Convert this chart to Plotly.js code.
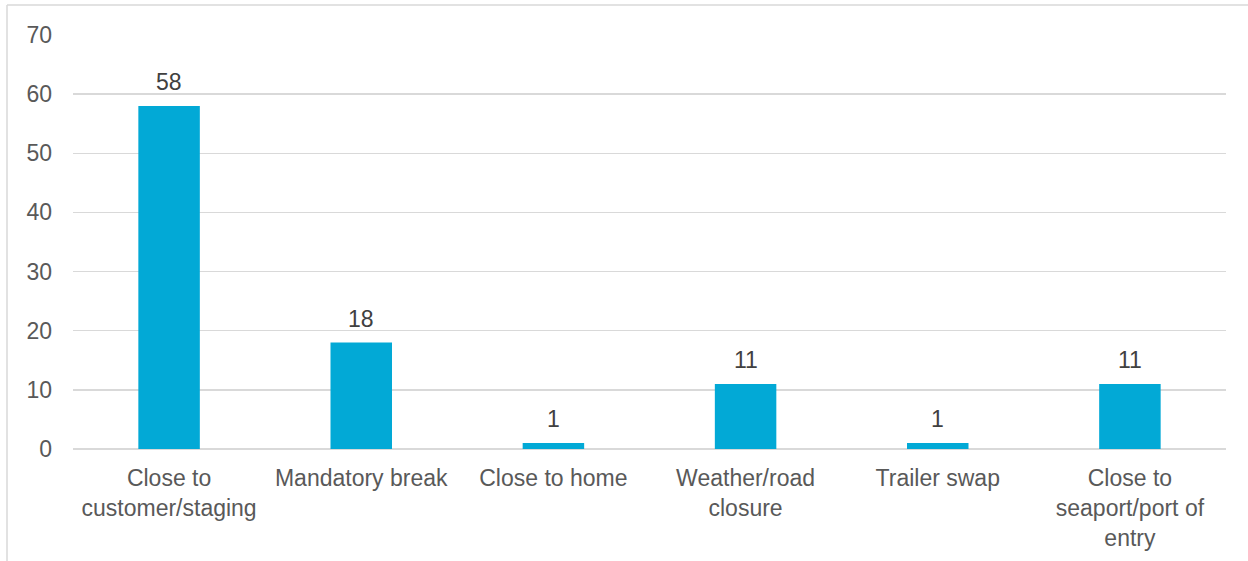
<!DOCTYPE html>
<html>
<head>
<meta charset="utf-8">
<script src="https://cdn.plot.ly/plotly-3.0.1.min.js"></script>
<style>
html,body{margin:0;padding:0;background:#fff;}
#chart{width:1248px;height:561px;}
</style>
</head>
<body>
<div id="chart"></div>
<script>
const categories = ["Close to<br>customer/staging", "Mandatory break", "Close to home", "Weather/road<br>closure", "Trailer swap", "Close to<br>seaport/port of<br>entry"];
const values = [58, 18, 1, 11, 1, 11];
const yTicks = [0, 10, 20, 30, 40, 50, 60, 70];

const W = 1248, H = 561;
const L = 73, R = 22, T = 35, B = 112;
const pw = W - L - R, ph = H - T - B;
const FONT = 'Liberation Sans, Arial, sans-serif';
const FS = 23;

const trace = {
  type: 'bar',
  x: categories,
  y: values,
  marker: {color: '#02A9D6'},
  hoverinfo: 'x+y'
};

const labels = categories.map((c, i) => ({
  x: c, y: values[i], xref: 'x', yref: 'y',
  text: String(values[i]),
  showarrow: false,
  yanchor: 'bottom',
  yshift: 9,
  font: {family: FONT, size: FS, color: '#404040'}
}));

const layout = {
  width: W, height: H,
  margin: {l: L, r: R, t: T, b: B, pad: 0},
  paper_bgcolor: '#fff', plot_bgcolor: '#fff',
  showlegend: false,
  bargap: 0.68,
  font: {family: FONT, size: FS, color: '#595959'},
  xaxis: {
    type: 'category',
    showgrid: false,
    showline: false,
    ticks: '',
    tickfont: {size: FS, color: '#595959'},
    ticklabelstandoff: 13,
    automargin: false
  },
  yaxis: {
    range: [0, 70],
    tickvals: yTicks,
    ticktext: yTicks.map(String),
    showgrid: true,
    gridcolor: '#D9D9D9',
    gridwidth: 1.3,
    zeroline: true,
    zerolinecolor: '#D9D9D9',
    zerolinewidth: 1.3,
    showline: false,
    ticks: '',
    tickfont: {size: FS, color: '#595959'},
    ticklabelstandoff: 20,
    automargin: false
  },
  annotations: labels,
  shapes: [
    {type: 'line', xref: 'paper', yref: 'paper',
     x0: (7 - L) / pw, x1: (W - L + 5) / pw, y0: (H - 5 - B) / ph, y1: (H - 5 - B) / ph,
     line: {color: '#D9D9D9', width: 1.5}},
    {type: 'line', xref: 'paper', yref: 'paper',
     x0: (7 - L) / pw, x1: (7 - L) / pw, y0: (H - 5 - B) / ph, y1: -(B + 5) / ph,
     line: {color: '#D9D9D9', width: 1.5}}
  ]
};

Plotly.newPlot('chart', [trace], layout, {displayModeBar: false, staticPlot: true});
</script>
</body>
</html>
